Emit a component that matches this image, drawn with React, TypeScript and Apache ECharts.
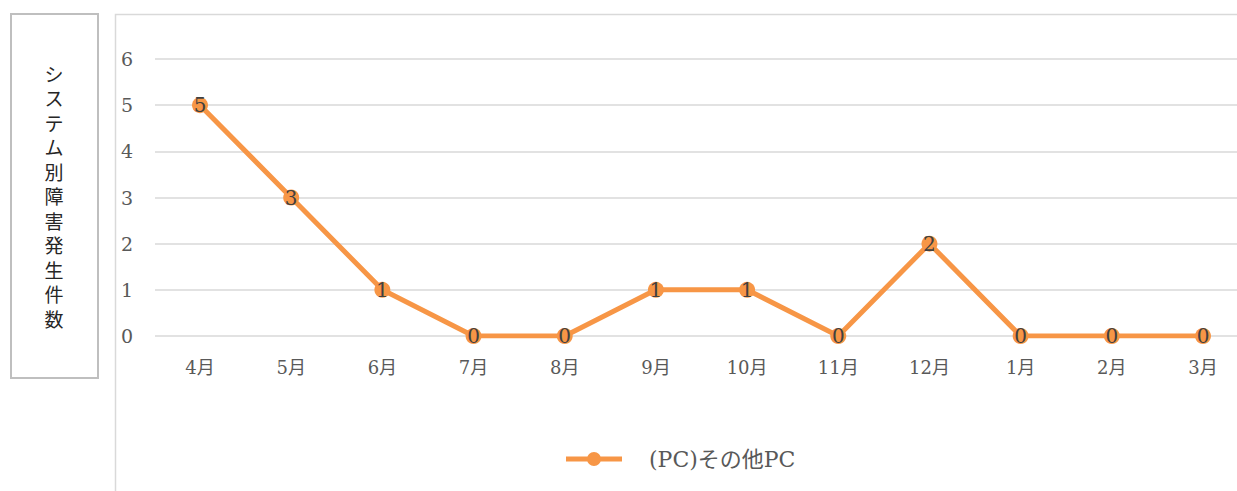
import React, { useEffect, useRef } from "react";
import * as echarts from "echarts";

const categories = ["4月", "5月", "6月", "7月", "8月", "9月", "10月", "11月", "12月", "1月", "2月", "3月"];
const seriesName = "(PC)その他PC";
const values = [5, 3, 1, 0, 0, 1, 1, 0, 2, 0, 0, 0];
const yTicks = { min: 0, max: 6, interval: 1 };
const titleText = "システム別障害発生件数";

const SERIF = "DejaVu Serif, Noto Sans CJK JP, serif";
const LEGEND_ICON = "path://M0,4.5 L56,4.5 L56,9.5 L0,9.5 Z M21,7 A7,7 0 1,1 35,7 A7,7 0 1,1 21,7 Z";

export default function App() {
  const ref = useRef<HTMLDivElement>(null);
  useEffect(() => {
    if (!ref.current) return;
    const chart = echarts.init(ref.current, null, { renderer: "svg" });
    const titleChars = titleText.split("").map((ch, i) => ({
      type: "text",
      x: 54,
      y: 73 + i * 24.5,
      style: {
        text: ch,
        fill: "#262626",
        fontSize: 19,
        fontFamily: "Noto Sans CJK JP, sans-serif",
        fontWeight: 400,
        align: "center",
        verticalAlign: "middle",
      },
    }));
    chart.setOption({
      animation: false,
      backgroundColor: "#ffffff",
      grid: [
        { left: 200, right: 34, top: 59, height: 277, containLabel: false },
        { left: 155, right: 0, top: 59, height: 277, containLabel: false },
      ],
      xAxis: [
        {
          type: "category",
          gridIndex: 0,
          data: categories,
          boundaryGap: false,
          axisLine: { show: false },
          axisTick: { show: false },
          splitLine: { show: false },
          axisLabel: { color: "#595959", fontSize: 18, fontFamily: SERIF, margin: 22 },
        },
        {
          type: "value",
          gridIndex: 1,
          show: false,
          min: 0,
          max: 1,
        },
      ],
      yAxis: [
        {
          type: "value",
          gridIndex: 0,
          min: yTicks.min,
          max: yTicks.max,
          interval: yTicks.interval,
          show: false,
          splitLine: { show: false },
        },
        {
          type: "value",
          gridIndex: 1,
          min: yTicks.min,
          max: yTicks.max,
          interval: yTicks.interval,
          axisLine: { show: false },
          axisTick: { show: false },
          axisLabel: { color: "#595959", fontSize: 19, fontFamily: SERIF, margin: 34, align: "left" },
          splitLine: { lineStyle: { color: "#d9d9d9", width: 1.5 } },
        },
      ],
      legend: {
        left: 566,
        top: 446,
        padding: 0,
        itemWidth: 56,
        itemHeight: 14,
        itemGap: 10,
        icon: LEGEND_ICON,
        data: [{ name: seriesName, itemStyle: { color: "#F79646" } }],
        textStyle: { color: "#595959", fontSize: 22, lineHeight: 26, fontFamily: SERIF, padding: [0, 0, 0, 22] },
      },
      graphic: [
        {
          type: "rect",
          shape: { x: 11, y: 14, width: 87, height: 364 },
          style: { fill: "#ffffff", stroke: "#bfbfbf", lineWidth: 2 },
          z: -1,
        },
        ...titleChars,
        {
          type: "polyline",
          shape: { points: [[115.5, 491], [115.5, 14.5], [1237, 14.5]] },
          style: { fill: "none", stroke: "#d9d9d9", lineWidth: 1.5 },
          z: -1,
        },
      ],
      series: [
        {
          name: seriesName,
          type: "line",
          xAxisIndex: 0,
          yAxisIndex: 0,
          data: values,
          color: "#F79646",
          lineStyle: { width: 5, color: "#F79646" },
          symbol: "circle",
          symbolSize: 16,
          itemStyle: { color: "#F79646" },
          z: 5,
          label: {
            show: true,
            position: "inside",
            color: "#404040",
            fontSize: 20,
            fontFamily: SERIF,
          },
        },
      ],
    });
    return () => chart.dispose();
  }, []);
  return <div ref={ref} style={{ position: "fixed", left: 0, top: 0, width: 1237, height: 491 }} />;
}
